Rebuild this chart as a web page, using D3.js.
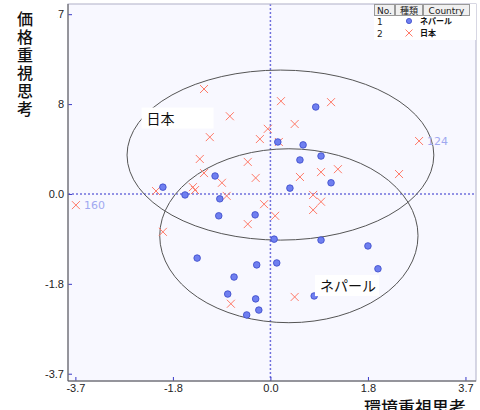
<!DOCTYPE html>
<html>
<head>
<meta charset="utf-8">
<script src="https://cdn.jsdelivr.net/npm/d3@7"></script>
<style>
  body { margin: 0; background: #fff; }
  svg { display: block; font-family: "DejaVu Sans", sans-serif; }
  .jp { font-family: "Noto Sans CJK JP", sans-serif; }
</style>
</head>
<body>
<svg id="chart" width="480" height="410"></svg>
<script>
// data
const nepalX = [-2.04, -1.05, -1.62, -0.96, -0.98, -0.29, 0.86, 0.14, 0.62, 0.56, 0.96, 1.15, 0.37,
  -1.39, -0.26, -0.69, -0.81, -0.28, -0.22, -0.45, 0.07, 0.96, 1.85, 0.12, 2.04, 0.83];
const nepalY = [0.14, 0.37, -0.02, -0.10, -0.45, -0.43, 1.79, 1.07, 1.01, 0.70, 0.78, 0.23, 0.12,
  -1.32, -1.46, -1.71, -2.06, -2.16, -2.39, -2.49, -0.93, -0.95, -1.07, -1.42, -1.54, -2.10];

const japanX = [-1.26, -0.77, -1.15, -0.20, -0.05, -1.34, -1.26, -0.43, -0.28, -0.92, -1.47, -1.43, -2.17,
  -0.83, -0.12, -0.43, -3.69, 0.20, 1.15, 0.46, 0.16, 2.82, 0.96, 1.28, 0.56, 2.44, 0.81, 0.96, 0.81,
  0.09, -2.04, -0.75, 0.46];
const japanY = [2.16, 1.60, 1.17, 1.13, 1.34, 0.72, 0.43, 0.66, 0.33, 0.23, 0.14, 0.08, 0.06,
  -0.04, -0.21, -0.62, -0.23, 1.91, 1.89, 1.44, 1.07, 1.09, 0.45, 0.51, 0.35, 0.41, -0.02, -0.16, -0.33,
  -0.45, -0.78, -2.26, -2.12];

// outlier labels: [x, y, text]
const pointLabels = [[-3.69, -0.23, '160'], [2.82, 1.09, '124']];

// group ellipses: centre and radii in data units
const ellipseNames = ['日本', 'ネパール'];
const ellipseCx = [0.19, 0.35];
const ellipseCy = [0.80, -0.86];
const ellipseRx = [2.91, 2.45];
const ellipseRy = [1.75, 1.79];
const ellipseLabelX = [-2.35, 0.94];
const ellipseLabelY = [1.45, -2.0];

const tickValues = [-3.7, -1.85, 0, 1.85, 3.7];
const xTickLabels = ['-3.7', '-1.8', '0.0', '1.8', '3.7'];
const yTickLabels = ['-3.7', '-1.8', '0.0', '1.8', '3.7'];

const legendNo = ['1', '2'];
const legendNames = ['ネパール', '日本'];

const svg = d3.select('#chart');
const plotLeft = 68, plotRight = 476, plotTop = 4, plotBottom = 381;

const x = d3.scaleLinear().domain([-3.84, 3.9]).range([plotLeft, plotRight]);
const y = d3.scaleLinear().domain([-3.85, 3.91]).range([plotBottom, plotTop]);

const blue = '#6f7ff0';
const blueStroke = '#3848c8';
const red = '#ff7a68';

svg.append('rect')
  .attr('x', plotLeft).attr('y', plotTop)
  .attr('width', plotRight - plotLeft).attr('height', plotBottom - plotTop)
  .attr('fill', '#f8f8ff');

// zero lines
svg.append('line')
  .attr('x1', plotLeft).attr('x2', plotRight).attr('y1', y(0)).attr('y2', y(0))
  .attr('stroke', '#7070dd').attr('stroke-width', 1.5).attr('stroke-dasharray', '2,2');
svg.append('line')
  .attr('x1', x(0)).attr('x2', x(0)).attr('y1', plotTop).attr('y2', plotBottom)
  .attr('stroke', '#7070dd').attr('stroke-width', 1.5).attr('stroke-dasharray', '2,2');

// axes
const xAxis = svg.append('g')
  .attr('transform', `translate(0,${plotBottom})`)
  .call(d3.axisBottom(x).tickValues(tickValues)
    .tickFormat((d, i) => xTickLabels[i]).tickSizeInner(-4).tickSizeOuter(0).tickPadding(3));
const yAxis = svg.append('g')
  .attr('transform', `translate(${plotLeft},0)`)
  .call(d3.axisLeft(y).tickValues(tickValues)
    .tickFormat((d, i) => yTickLabels[i]).tickSizeInner(-4).tickSizeOuter(0).tickPadding(4));

[xAxis, yAxis].forEach(g => {
  g.select('.domain').remove();
  g.selectAll('.tick line').attr('stroke', '#3a3ac8');
  g.selectAll('.tick text').attr('fill', '#222').style('font-size', '11px');
});

// frame
svg.append('rect')
  .attr('x', plotLeft).attr('y', plotTop)
  .attr('width', plotRight - plotLeft).attr('height', plotBottom - plotTop)
  .attr('fill', 'none').attr('stroke', '#b0b0c8');
svg.append('path')
  .attr('d', `M${plotLeft},${plotTop}V${plotBottom}H${plotRight}`)
  .attr('fill', 'none').attr('stroke', '#555');

// ellipses
ellipseNames.forEach((name, i) => {
  svg.append('ellipse')
    .attr('cx', x(ellipseCx[i])).attr('cy', y(ellipseCy[i]))
    .attr('rx', x(ellipseRx[i]) - x(0)).attr('ry', y(0) - y(ellipseRy[i]))
    .attr('fill', 'none').attr('stroke', '#555').attr('stroke-width', 1);
});

// Japan crosses
const cs = 4;
svg.append('g').selectAll('path')
  .data(d3.zip(japanX, japanY))
  .join('path')
  .attr('d', d => {
    const px = x(d[0]), py = y(d[1]);
    return `M${px - cs},${py - cs}L${px + cs},${py + cs}M${px - cs},${py + cs}L${px + cs},${py - cs}`;
  })
  .attr('stroke', red).attr('stroke-width', 1).attr('fill', 'none');

// Nepal dots
svg.append('g').selectAll('circle')
  .data(d3.zip(nepalX, nepalY))
  .join('circle')
  .attr('cx', d => x(d[0])).attr('cy', d => y(d[1]))
  .attr('r', 3.3)
  .attr('fill', blue).attr('stroke', blueStroke).attr('stroke-width', 0.8);

// outlier labels
svg.append('g').selectAll('text')
  .data(pointLabels)
  .join('text')
  .attr('x', d => x(d[0]) + 8).attr('y', d => y(d[1]) + 4)
  .attr('fill', '#a0a8f0').style('font-size', '11px')
  .text(d => d[2]);

// group labels in white boxes
ellipseNames.forEach((name, i) => {
  const t = svg.append('text')
    .attr('class', 'jp')
    .attr('x', x(ellipseLabelX[i])).attr('y', y(ellipseLabelY[i]))
    .attr('fill', '#111').style('font-size', '14px')
    .text(name);
  const bb = t.node().getBBox();
  svg.insert('rect', () => t.node())
    .attr('x', bb.x - 5).attr('y', bb.y)
    .attr('width', bb.width + (i === 0 ? 44 : 8)).attr('height', bb.height + 1)
    .attr('fill', '#fff');
});

// white area behind the y title (clips the top tick labels)
svg.append('rect')
  .attr('x', 0).attr('y', 0).attr('width', 57.5).attr('height', 150)
  .attr('fill', '#fff');

// axis titles
svg.append('text')
  .attr('class', 'jp')
  .attr('x', 25).attr('y', 11)
  .style('writing-mode', 'vertical-rl')
  .style('letter-spacing', '2px')
  .attr('fill', '#111').style('font-size', '16px').style('font-weight', '500')
  .text('価格重視思考');

svg.append('text')
  .attr('class', 'jp')
  .attr('x', 466).attr('y', 414)
  .attr('text-anchor', 'end')
  .attr('fill', '#111').style('font-size', '17px').style('font-weight', '500')
  .text('環境重視思考');

// legend
const lg = svg.append('g');
const lx = 374, ly = 4;
const colX = [lx, lx + 21, lx + 49, lx + 96];
const rowY = legendNo.map((n, i) => ly + 17 + i * 12);
lg.append('rect').attr('x', lx).attr('y', ly).attr('width', plotRight - lx).attr('height', 36)
  .attr('fill', '#fff');
['No.', '種類', 'Country'].forEach((h, i) => {
  lg.append('rect')
    .attr('x', colX[i] + 0.5).attr('y', ly + 0.5)
    .attr('width', colX[i + 1] - colX[i] - 1).attr('height', 11)
    .attr('fill', '#f0f0f0').attr('stroke', '#999');
  lg.append('text')
    .attr('class', i === 1 ? 'jp' : null)
    .attr('x', (colX[i] + colX[i + 1]) / 2).attr('y', ly + 9.5)
    .attr('text-anchor', 'middle').attr('fill', '#222').style('font-size', '9px')
    .text(h);
});
// symbols
lg.append('circle').attr('cx', lx + 35).attr('cy', rowY[0])
  .attr('r', 2.6).attr('fill', blue).attr('stroke', blueStroke).attr('stroke-width', 0.8);
{
  const px = lx + 35, py = rowY[1], s = 3.5;
  lg.append('path')
    .attr('d', `M${px - s},${py - s}L${px + s},${py + s}M${px - s},${py + s}L${px + s},${py - s}`)
    .attr('stroke', red).attr('fill', 'none');
}
// numbers and names
legendNo.forEach((n, i) => {
  lg.append('text').attr('x', lx + 3).attr('y', rowY[i] + 3.5)
    .attr('fill', '#222').style('font-size', '9px').text(n);
  lg.append('text').attr('class', 'jp').attr('x', lx + 46).attr('y', rowY[i] + 3)
    .attr('fill', '#111').style('font-size', '8px').style('font-weight', 'bold')
    .text(legendNames[i]);
});
</script>
</body>
</html>
